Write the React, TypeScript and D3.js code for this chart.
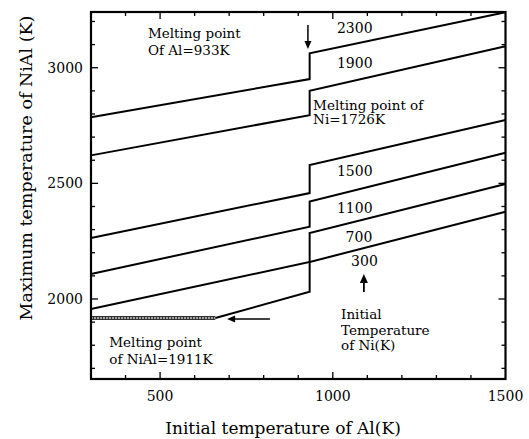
import React from "react";
import * as d3 from "d3";

// ---- data ----
const alTemps = [300, 933, 933, 1500];
const max2300 = [2786, 2951, 3062, 3240];
const max1900 = [2621, 2795, 2900, 3093];
const max1500 = [2264, 2458, 2579, 2774];
const max1100 = [2108, 2313, 2421, 2632];
const max700 = [1957, 2160, 2285, 2497];
const alTemps300 = [660, 933, 933, 1500];
const max300 = [1918, 2031, 2160, 2377];
const plateauAl = [300, 660];
const plateauMax = 1918;

const niLabels = ["2300", "1900", "1500", "1100", "700", "300"];
const xTicks = [500, 1000, 1500];
const yTicks = [2000, 2500, 3000];

const W = 529, H = 439;
const x = d3.scaleLinear().domain([300, 1500]).range([91, 505.5]);
const y = d3.scaleLinear().domain([1654, 3241]).range([379, 12]);

const FONT = "DejaVu Serif";

const seriesList = [
  { name: niLabels[0], xs: alTemps, ys: max2300 },
  { name: niLabels[1], xs: alTemps, ys: max1900 },
  { name: niLabels[2], xs: alTemps, ys: max1500 },
  { name: niLabels[3], xs: alTemps, ys: max1100 },
  { name: niLabels[4], xs: alTemps, ys: max700 },
  { name: niLabels[5], xs: alTemps300, ys: max300 },
];

// labels [text, al, max]
const lineLabels: [string, number, number][] = [
  [niLabels[0], 1012, 3150],
  [niLabels[1], 1012, 2998],
  [niLabels[2], 1012, 2530],
  [niLabels[3], 1012, 2371],
  [niLabels[4], 1037, 2248],
  [niLabels[5], 1053, 2143],
];

const notes: [string, number, number][] = [
  ["Melting point", 465, 3128],
  ["Of Al=933K", 465, 3055],
  ["Melting point of", 943, 2817],
  ["Ni=1726K", 943, 2756],
  ["Initial", 1024, 1913],
  ["Temperature", 1024, 1845],
  ["of Ni(K)", 1024, 1780],
  ["Melting point", 353, 1792],
  ["of NiAl=1911K", 353, 1720],
];

export default function App() {
  const line = d3.line<[number, number]>().x((d) => x(d[0])).y((d) => y(d[1]));
  const x0 = x.range()[0], x1 = x.range()[1];
  const y0 = y.range()[0], y1 = y.range()[1];
  const minorX = d3.range(400, 1500, 100);
  const minorY = d3.range(1700, 3241, 100);

  // arrows
  const dnX = x(928), dnY0 = y(3185), dnY1 = y(3081);
  const lfY = y(1913), lfX0 = x(818), lfX1 = x(694);
  const upX = x(1090), upY0 = y(2030), upY1 = y(2108);

  return (
    <svg width={W} height={H} style={{ position: "absolute", left: 0, top: 0, background: "#fff" }}
      fontFamily={FONT}>
      <rect x={0} y={0} width={W} height={H} fill="#fff" />
      {/* ticks */}
      {minorX.map((v) => {
        const major = xTicks.includes(v);
        const l = major ? 7 : 4;
        return (
          <g key={"xt" + v} stroke="#000" strokeWidth={1.3}>
            <line x1={x(v)} x2={x(v)} y1={y0} y2={y0 - l} />
            <line x1={x(v)} x2={x(v)} y1={y1} y2={y1 + l} />
          </g>
        );
      })}
      {minorY.map((v) => {
        const major = yTicks.includes(v);
        const l = major ? 7 : 4;
        return (
          <g key={"yt" + v} stroke="#000" strokeWidth={1.3}>
            <line x1={x0} x2={x0 + l} y1={y(v)} y2={y(v)} />
            <line x1={x1} x2={x1 - l} y1={y(v)} y2={y(v)} />
          </g>
        );
      })}
      {/* plateau */}
      <line x1={x(plateauAl[0])} x2={x(plateauAl[1])} y1={y(plateauMax)} y2={y(plateauMax)}
        stroke="#333" strokeWidth={4} />
      <line x1={x(plateauAl[0])} x2={x(plateauAl[1])} y1={y(plateauMax)} y2={y(plateauMax)}
        stroke="#c8c8c8" strokeWidth={1.6} strokeDasharray="2 1" />
      {/* series */}
      {seriesList.map((s) => (
        <path key={s.name}
          d={line(s.xs.map((v, i) => [v, s.ys[i]] as [number, number])) || ""}
          fill="none" stroke="#000" strokeWidth={2} strokeLinejoin="miter" />
      ))}
      {/* frame */}
      <rect x={x0} y={y1} width={x1 - x0} height={y0 - y1} fill="none" stroke="#000" strokeWidth={2.2} />
      {/* tick labels */}
      {xTicks.map((v) => (
        <text key={"xl" + v} x={x(v)} y={401} textAnchor="middle" fontSize={14}>{v}</text>
      ))}
      {yTicks.map((v) => (
        <text key={"yl" + v} x={83} y={y(v) + 5} textAnchor="end" fontSize={14}>{v}</text>
      ))}
      {/* axis titles */}
      <text x={283} y={434} textAnchor="middle" fontSize={17}>Initial temperature of Al(K)</text>
      <text transform={`translate(32,${168}) rotate(-90)`} textAnchor="middle" fontSize={17.5}>
        Maximum temperature of NiAl (K)
      </text>
      {/* labels */}
      {lineLabels.map(([t, a, m]) => (
        <text key={"ll" + t} x={x(a)} y={y(m)} fontSize={14}>{t}</text>
      ))}
      {notes.map(([t, a, m], i) => (
        <text key={"n" + i} x={x(a)} y={y(m)} fontSize={13.5}>{t}</text>
      ))}
      {/* arrows */}
      <line x1={dnX} x2={dnX} y1={dnY0} y2={dnY1 - 6} stroke="#000" strokeWidth={1.5} />
      <path d={`M${dnX - 3.5},${dnY1 - 8} L${dnX + 3.5},${dnY1 - 8} L${dnX},${dnY1} Z`} fill="#000" />
      <line x1={lfX0} x2={lfX1 + 6} y1={lfY} y2={lfY} stroke="#000" strokeWidth={1.5} />
      <path d={`M${lfX1 + 8},${lfY - 3.5} L${lfX1 + 8},${lfY + 3.5} L${lfX1},${lfY} Z`} fill="#000" />
      <line x1={upX} x2={upX} y1={upY0} y2={upY1 + 6} stroke="#000" strokeWidth={1.8} />
      <path d={`M${upX - 4},${upY1 + 9} L${upX + 4},${upY1 + 9} L${upX},${upY1} Z`} fill="#000" />
    </svg>
  );
}
